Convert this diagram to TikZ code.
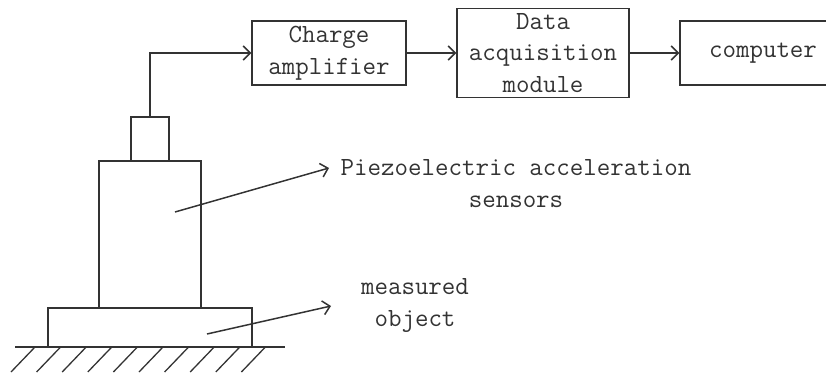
\documentclass[tikz,border=0pt]{standalone}
\usepackage{fontspec}
\usetikzlibrary{arrows.meta}
\def\blocks{{(329,53)/charge/154/64/{Charge\\amplifier}}, {(543,53)/daq/172/89/{Data\\acquisition\\module}}, {(763,53)/computer/166/64/{computer}}}
\def\mechanics{{(150,139)/head/38/44}, {(150,234.5)/sensor/102/147}, {(150,327.5)/base/204/39}}
\def\connect{charge/daq, daq/computer}
\tikzstyle{edge} = [draw, line width=1.5pt, draw=black!80, -{Straight Barb[length=7pt,width=14pt,line width=1.5pt]}]
\tikzstyle{plain edge} = [draw, line width=1.5pt, draw=black!80]
\tikzstyle{hatch} = [draw, line width=1.3pt, draw=black!80]
\tikzstyle{block} = [rectangle, draw=black!80, line width=1.5pt, inner sep=0pt, align=center, font=\ttfamily\fontsize{26.2}{31.5}\selectfont, text=black!80]
\tikzstyle{label} = [inner sep=0pt, align=center, font=\ttfamily\fontsize{26.2}{32}\selectfont, text=black!80]

\begin{document}
\begin{tikzpicture}[x=1pt,y=-1pt]
  \useasboundingbox (0,0) rectangle (826,374);
  \clip (0,0) rectangle (826,374);

  % The mechanical parts
  \foreach \pos/\name/\wide/\high in \mechanics {
    \node[block, minimum width=\wide pt, minimum height=\high pt] (\name) at \pos {};
  }

  % The signal chain
  \foreach \pos/\name/\wide/\high/\txt in \blocks {
    \node[block, minimum width=\wide pt, minimum height=\high pt] (\name) at \pos {\txt};
  }

  % The ground and its hatching
  \coordinate (ground-l) at (15,347);
  \coordinate (ground-r) at (285,347);
  \path[plain edge] (ground-l) -- (ground-r);
  \foreach \x in {0,...,9} {
    \coordinate (h-\x) at (35+25.6*\x,347);
    \coordinate (f-\x) at (11+25.6*\x,372);
    \path[hatch] (h-\x) -- (f-\x);
  }

  % The labels
  \node[label] (piezo) at (516,184) {Piezoelectric acceleration\\sensors};
  \node[label] (object) at (415,305) {measured\\object};

  % All the connections
  \path[edge] (head.north) |- (charge.west);
  \foreach \source/\sink in \connect
    \path[edge] (\source) -- (\sink);

  % The two leaders
  \coordinate (sensor-in) at (175,212);
  \coordinate (sensor-out) at (329,168);
  \coordinate (base-in) at (207,334);
  \coordinate (base-out) at (331,306);
  \path[edge] (sensor-in) -- (sensor-out);
  \path[edge] (base-in) -- (base-out);
\end{tikzpicture}
\end{document}
